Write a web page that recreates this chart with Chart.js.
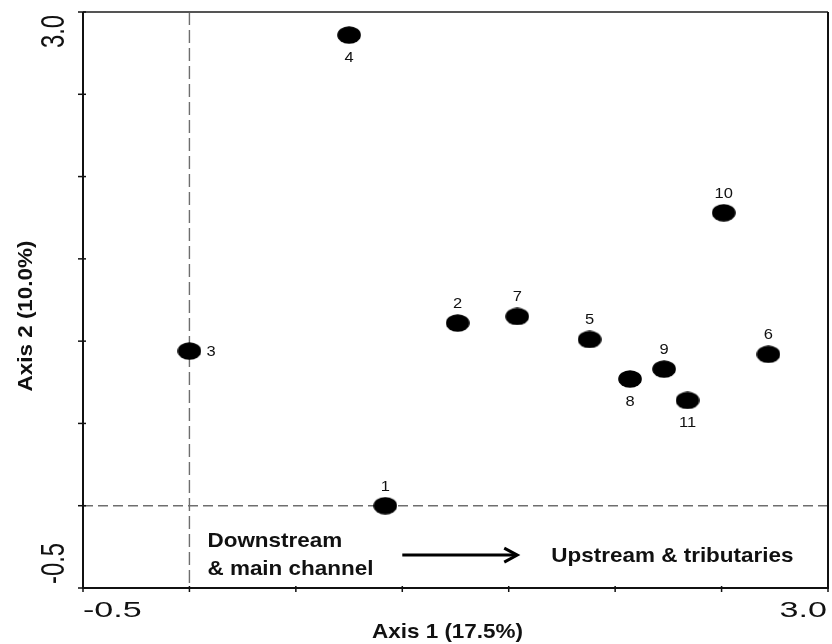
<!DOCTYPE html>
<html>
<head>
<meta charset="utf-8">
<script src="https://cdn.jsdelivr.net/npm/chart.js@4/dist/chart.umd.min.js"></script>
<style>
  html, body { margin: 0; padding: 0; background: #fff; }
  #wrap { width: 832px; height: 644px; position: relative; }
</style>
</head>
<body>
<div id="wrap"><canvas id="ordination"></canvas></div>
<script>
// site numbers and their scores on the two ordination axes
const sites = ['1', '2', '3', '4', '5', '6', '7', '8', '9', '10', '11'];
const axis1Scores = [0.92, 1.26, 0.00, 0.75, 1.88, 2.72, 1.54, 2.07, 2.23, 2.51, 2.34];
const axis2Scores = [0.00, 1.11, 0.94, 2.86, 1.01, 0.92, 1.15, 0.77, 0.83, 1.78, 0.64];
const axisRange = [-0.5, 3.0];
const tickLabels = ['-0.5', '3.0'];
const axisTitles = ['Axis 1 (17.5%)', 'Axis 2 (10.0%)'];

const FONT = '"Liberation Sans", Arial, sans-serif';

// which side of the dot each site number sits on (default is above)
const labelSide = { '3': 'right', '4': 'below', '8': 'below', '11': 'below' };

// black oval used as the marker
function makeDot() {
    const c = document.createElement('canvas');
    c.width = 24; c.height = 18;
    const g = c.getContext('2d');
    g.fillStyle = '#000';
    g.beginPath();
    g.ellipse(12, 9, 11.8, 8.8, 0, 0, Math.PI * 2);
    g.fill();
    return c;
}

function stretchText(ctx, text, x, y, sx, align) {
    ctx.save();
    ctx.translate(x, y);
    ctx.scale(sx, 1);
    ctx.textAlign = align || 'left';
    ctx.fillText(text, 0, 0);
    ctx.restore();
}

const framePlugin = {
    id: 'frame',
    beforeDatasetsDraw(chart) {
        const { ctx, chartArea: a, scales: { x, y } } = chart;
        ctx.save();

        // dashed reference lines through zero
        ctx.strokeStyle = '#6e6e6e';
        ctx.lineWidth = 1.4;
        const x0 = x.getPixelForValue(0), y0 = y.getPixelForValue(0);
        ctx.setLineDash([13, 5]);
        ctx.beginPath(); ctx.moveTo(x0, a.top); ctx.lineTo(x0, a.bottom); ctx.stroke();
        ctx.setLineDash([10, 5]);
        ctx.beginPath(); ctx.moveTo(a.left, y0); ctx.lineTo(a.right, y0); ctx.stroke();
        ctx.setLineDash([]);

        // box
        ctx.lineWidth = 2;
        ctx.strokeStyle = '#555';
        ctx.beginPath(); ctx.moveTo(a.left, a.top); ctx.lineTo(a.right, a.top); ctx.stroke();
        ctx.strokeStyle = '#111';
        ctx.beginPath();
        ctx.moveTo(a.left, a.top); ctx.lineTo(a.left, a.bottom); ctx.lineTo(a.right, a.bottom); ctx.lineTo(a.right, a.top);
        ctx.stroke();

        // tick marks
        ctx.lineWidth = 1.5;
        x.ticks.forEach(t => {
            const px = x.getPixelForValue(t.value);
            ctx.beginPath(); ctx.moveTo(px, a.bottom - 2); ctx.lineTo(px, a.bottom + 4); ctx.stroke();
        });
        y.ticks.forEach(t => {
            const py = y.getPixelForValue(t.value);
            ctx.beginPath(); ctx.moveTo(a.left - 5, py); ctx.lineTo(a.left + 3, py); ctx.stroke();
        });

        // tick labels, only at the ends
        ctx.fillStyle = '#111';
        ctx.font = '22px ' + FONT;
        ctx.textBaseline = 'alphabetic';
        stretchText(ctx, tickLabels[0], x.getPixelForValue(axisRange[0]), a.bottom + 29, 1.55, 'left');
        stretchText(ctx, tickLabels[1], x.getPixelForValue(axisRange[1]) - 1, a.bottom + 29, 1.55, 'right');

        ctx.font = '34px ' + FONT;
        [[tickLabels[0], y.getPixelForValue(axisRange[0]) - 4, 'left'],
         [tickLabels[1], y.getPixelForValue(axisRange[1]) + 3, 'right']].forEach(([txt, py, al]) => {
            ctx.save();
            ctx.translate(a.left - 19, py);
            ctx.rotate(-Math.PI / 2);
            ctx.scale(0.7, 1);
            ctx.textAlign = al;
            ctx.fillText(txt, 0, 0);
            ctx.restore();
        });

        // axis titles
        ctx.font = 'bold 21px ' + FONT;
        stretchText(ctx, axisTitles[0], (a.left + a.right) / 2 - 8, a.bottom + 50, 1.07, 'center');
        ctx.save();
        ctx.translate(a.left - 51, (a.top + a.bottom) / 2 + 16);
        ctx.rotate(-Math.PI / 2);
        ctx.scale(1.07, 1);
        ctx.textAlign = 'center';
        ctx.fillText(axisTitles[1], 0, 0);
        ctx.restore();

        // gradient note along axis 1
        const noteY = y.getPixelForValue(-0.3);
        stretchText(ctx, 'Downstream', x0 + 18, noteY - 8, 1.07);
        stretchText(ctx, '& main channel', x0 + 18, noteY + 20, 1.07);
        stretchText(ctx, 'Upstream & tributaries', x.getPixelForValue(1.7), noteY + 7, 1.07);

        const ax1 = x.getPixelForValue(1.0), ax2 = x.getPixelForValue(1.54);
        ctx.strokeStyle = '#000';
        ctx.lineWidth = 3;
        ctx.beginPath(); ctx.moveTo(ax1, noteY); ctx.lineTo(ax2 - 2, noteY); ctx.stroke();
        ctx.beginPath();
        ctx.moveTo(ax2 - 13, noteY - 7); ctx.lineTo(ax2, noteY); ctx.lineTo(ax2 - 13, noteY + 7);
        ctx.stroke();

        ctx.restore();
    },
    afterDatasetsDraw(chart) {
        const { ctx } = chart;
        const meta = chart.getDatasetMeta(0);
        ctx.save();
        ctx.fillStyle = '#111';
        ctx.font = '15px ' + FONT;
        meta.data.forEach((pt, i) => {
            const side = labelSide[sites[i]] || 'above';
            if (side === 'above') stretchText(ctx, sites[i], pt.x, pt.y - 15, 1.1, 'center');
            else if (side === 'below') stretchText(ctx, sites[i], pt.x, pt.y + 27, 1.1, 'center');
            else stretchText(ctx, sites[i], pt.x + 17, pt.y + 5, 1.1, 'left');
        });
        ctx.restore();
    }
};

const dot = makeDot();

new Chart(document.getElementById('ordination'), {
    type: 'scatter',
    data: {
        datasets: [{
            label: 'Sites',
            data: sites.map((s, i) => ({ x: axis1Scores[i], y: axis2Scores[i] })),
            pointStyle: dot,
            pointRadius: 12,
            pointHoverRadius: 12,
            clip: false
        }]
    },
    options: {
        responsive: true,
        maintainAspectRatio: false,
        animation: false,
        layout: { autoPadding: false, padding: { left: 83, right: 4, top: 12, bottom: 56 } },
        plugins: { legend: { display: false }, tooltip: { enabled: false } },
        scales: {
            x: {
                type: 'linear', display: false, min: axisRange[0], max: axisRange[1],
                ticks: { stepSize: 0.5 }
            },
            y: {
                type: 'linear', display: false, min: axisRange[0], max: axisRange[1],
                ticks: { stepSize: 0.5 }
            }
        }
    },
    plugins: [framePlugin]
});
</script>
</body>
</html>
